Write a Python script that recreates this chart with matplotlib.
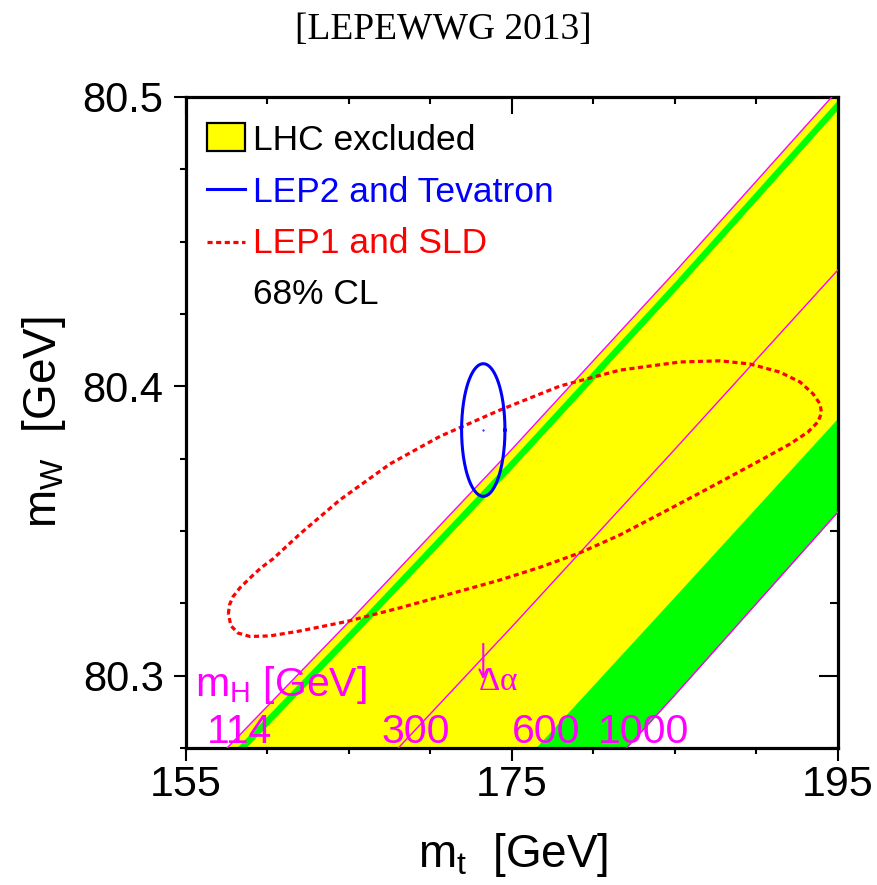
import numpy as np
import matplotlib.pyplot as plt
from matplotlib.patches import Rectangle
from matplotlib.ticker import MultipleLocator

plt.rcParams['font.family'] = ['Liberation Sans', 'DejaVu Sans']
plt.rcParams['mathtext.default'] = 'regular'

# SM prediction lines m_W(m_t) for fixed m_H
mt = [155, 165, 175, 185, 195]
mw_114 = [80.2604, 80.3187, 80.3783, 80.4395, 80.5023]
mw_green_hi = [80.2571, 80.3154, 80.3750, 80.4362, 80.4990]
mw_green_lo = [80.2538, 80.3121, 80.3717, 80.4329, 80.4957]
mw_300 = [80.1980, 80.2569, 80.3170, 80.3783, 80.4402]
mw_600 = [80.1472, 80.2062, 80.2663, 80.3275, 80.3891]
mw_1000 = [80.1137, 80.1724, 80.2318, 80.2934, 80.3566]

mh_labels = ['114', '300', '600', '1000']
mh_label_mt = [158.3, 169.1, 177.1, 183.1]

# LEP2 and Tevatron (direct), 68% CL
direct_mt, direct_dmt = 173.24, 1.33
direct_mw, direct_dmw = 80.3849, 0.0229

# LEP1 and SLD (indirect), 68% CL contour
indirect_mt = [157.60, 157.67, 157.88, 158.31, 158.93, 159.60, 160.34, 161.99,
               164.45, 167.52, 170.58, 174.26, 177.95, 181.63, 185.31, 187.76,
               189.60, 191.44, 192.67, 193.47, 193.90, 193.99, 193.77, 193.16,
               192.06, 190.52, 188.68, 186.53, 184.08, 181.63, 179.17, 176.72,
               174.26, 171.20, 168.13, 164.88, 161.99, 160.15, 158.93, 158.19,
               157.76, 157.60]
indirect_mw = [80.3214, 80.3245, 80.3273, 80.3304, 80.3338, 80.3373, 80.3404,
               80.3490, 80.3608, 80.3732, 80.3827, 80.3918, 80.4001, 80.4056,
               80.4084, 80.4088, 80.4077, 80.4049, 80.4015, 80.3974, 80.3939,
               80.3908, 80.3877, 80.3842, 80.3801, 80.3753, 80.3697, 80.3632,
               80.3559, 80.3487, 80.3425, 80.3375, 80.3331, 80.3283, 80.3235,
               80.3188, 80.3155, 80.3138, 80.3136, 80.3148, 80.3173, 80.3214]

MAGENTA = '#ff00ff'
GREEN = '#00ff00'
YELLOW = '#ffff00'
DOTS = (0, (1.6, 1.1))

fig = plt.figure(figsize=(8.78, 8.85), dpi=100)
ax = fig.add_axes([0.2118, 0.1545, 0.7426, 0.7362])

ax.fill_between(mt, mw_1000, mw_114, color=YELLOW, lw=0, zorder=1)
ax.fill_between(mt, mw_green_lo, mw_green_hi, color=GREEN, lw=0, zorder=2)
ax.fill_between(mt, mw_1000, mw_600, color=GREEN, lw=0, zorder=2)
for line in (mw_114, mw_300, mw_1000):
    ax.plot(mt, line, color=MAGENTA, lw=1.0, zorder=3)

ax.plot(indirect_mt, indirect_mw, color='red', lw=2.3, ls=DOTS, zorder=4)

t = np.linspace(0, 2 * np.pi, 300)
ax.plot(direct_mt + direct_dmt * np.cos(t), direct_mw + direct_dmw * np.sin(t),
        color='blue', lw=2.2, zorder=5)
ax.plot([direct_mt], [direct_mw], marker='.', ms=1, color='blue', zorder=5)

# m_H labels
ax.text(155.55, 80.2929, r'$m_H$ [GeV]', color=MAGENTA, fontsize=29.5,
        ha='left', va='baseline', zorder=6)
for lab, xm in zip(mh_labels, mh_label_mt):
    ax.text(xm, 80.2768, lab, color=MAGENTA, fontsize=29.5, ha='center',
            va='baseline', zorder=6)
ax.annotate('', xy=(173.24, 80.2978), xytext=(173.24, 80.3120),
            arrowprops=dict(arrowstyle='->', color=MAGENTA, lw=1.5,
                            mutation_scale=14), zorder=6)
ax.text(174.15, 80.2950, r'$\Delta\alpha$', color=MAGENTA, fontsize=24,
        ha='center', va='baseline', family='Liberation Serif', zorder=6)

# legend
ax.add_patch(Rectangle((156.31, 80.4812), 2.31, 0.0098, facecolor=YELLOW,
                       edgecolor='black', lw=1.6, zorder=6))
ax.plot([156.31, 158.62], [80.4680, 80.4680], color='blue', lw=2.2, zorder=6)
ax.plot([156.31, 158.62], [80.4499, 80.4499], color='red', lw=2.3, ls=DOTS, zorder=6)
ax.text(159.09, 80.4816, 'LHC excluded', fontsize=25.5, color='black', va='baseline')
ax.text(159.09, 80.4637, 'LEP2 and Tevatron', fontsize=25.5, color='blue', va='baseline')
ax.text(159.09, 80.4459, 'LEP1 and SLD', fontsize=25.5, color='red', va='baseline')
ax.text(159.09, 80.4284, '68% CL', fontsize=25.5, color='black', va='baseline')

ax.set_xlim(155, 195)
ax.set_ylim(80.275, 80.5)
ax.set_xticks([155, 175, 195])
ax.set_yticks([80.3, 80.4, 80.5])
ax.xaxis.set_minor_locator(MultipleLocator(5))
ax.yaxis.set_minor_locator(MultipleLocator(0.025))
ax.tick_params(which='major', direction='out', length=9, width=1.5)
ax.tick_params(which='minor', direction='out', length=4.5, width=1.5)
ax.tick_params(axis='y', labelsize=30, pad=7)
ax.tick_params(axis='x', labelsize=31, pad=3)
for s in ax.spines.values():
    s.set_linewidth(2.3)

top = ax.secondary_xaxis('top')
top.set_xticks([155, 175, 195])
top.xaxis.set_minor_locator(MultipleLocator(5))
top.tick_params(which='major', direction='in', length=12, width=1.5, labeltop=False)
top.tick_params(which='minor', direction='in', length=5, width=1.5)
right = ax.secondary_yaxis('right')
right.set_yticks([80.3, 80.4, 80.5])
right.yaxis.set_minor_locator(MultipleLocator(0.025))
right.tick_params(which='major', direction='in', length=14, width=1.5, labelright=False)
right.tick_params(which='minor', direction='in', length=6, width=1.5)

fig.text(0.584, 0.034, r'$m_t$  [GeV]', fontsize=33, ha='center', va='center')
fig.text(0.050, 0.523, r'$m_W$  [GeV]', fontsize=33, ha='center', va='center',
         rotation=90)
fig.text(0.505, 0.966, '[LEPEWWG 2013]', fontsize=27, ha='center', va='center',
         family='Liberation Serif')

fig.savefig('out.png', dpi=100)
